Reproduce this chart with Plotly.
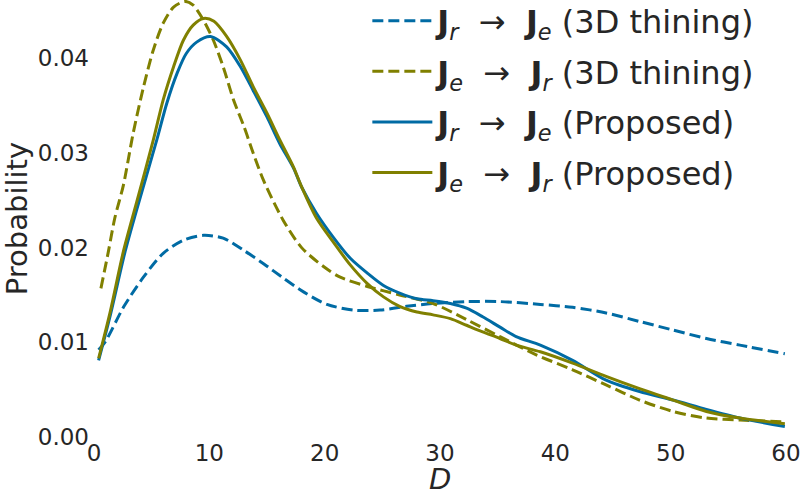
import plotly.graph_objects as go

# ---- data ----
x_rt_thin = [0.4, 1.0, 2.6, 4.3, 6.0, 7.8, 9.5, 11.2, 13.0, 14.7, 16.4, 18.2, 20.2, 22.5, 24.8,
             27.1, 29.4, 32.3, 35.2, 38.7, 41.5, 44.4, 47.3, 50.2, 53.1, 56.0, 59.9]
y_rt_thin = [0.0092, 0.0101, 0.0138, 0.0169, 0.0194, 0.0208, 0.0213, 0.0210, 0.0197, 0.0183, 0.0168,
             0.0153, 0.0140, 0.0134, 0.0134, 0.0138, 0.0141, 0.0143, 0.0143, 0.0140, 0.0137, 0.0131,
             0.0122, 0.0113, 0.0104, 0.0097, 0.0088]

x_er_thin = [0.6, 1.25, 1.8, 2.55, 3.4, 4.3, 5.15, 6.0, 6.9, 7.9, 8.6, 9.5, 10.35, 11.2, 12.1, 13.0,
             13.8, 14.7, 16.4, 18.0, 19.9, 21.3, 23.7, 26.5, 29.4, 32.3, 35.2, 38.3, 41.5, 44.4,
             47.3, 50.2, 53.1, 56.0, 59.9]
y_er_thin = [0.0157, 0.0196, 0.0231, 0.0266, 0.0321, 0.0370, 0.0409, 0.0437, 0.0454, 0.0460, 0.0456,
             0.0440, 0.0419, 0.0391, 0.0356, 0.0328, 0.0300, 0.0271, 0.0229, 0.0200, 0.0180, 0.0169,
             0.0159, 0.0150, 0.0141, 0.0124, 0.0106, 0.0087, 0.0071, 0.0055, 0.0039, 0.0027, 0.0020,
             0.0018, 0.0016]

x_rt_prop = [0.4, 1.4, 2.7, 3.7, 5.45, 6.3, 7.2, 8.0, 8.9, 10.1, 11.5, 12.7, 13.8, 15.0, 16.1,
             17.3, 18.0, 19.3, 20.8, 22.2, 23.7, 25.1, 26.5, 28.0, 29.4, 30.9, 32.3, 33.7, 35.2,
             36.6, 38.7, 41.5, 44.4, 47.3, 50.2, 53.1, 56.0, 59.9]
y_rt_prop = [0.0081, 0.0128, 0.0196, 0.0240, 0.0314, 0.0352, 0.0384, 0.0405, 0.0417, 0.0423,
             0.0412, 0.0391, 0.0366, 0.0338, 0.0310, 0.0284, 0.0264, 0.0236, 0.0210, 0.0189, 0.0173,
             0.0160, 0.0152, 0.0146, 0.0144, 0.0141, 0.0136, 0.0127, 0.0116, 0.0106, 0.0097, 0.0081,
             0.0060, 0.0048, 0.0039, 0.0029, 0.0020, 0.0011]

x_er_prop = [0.4, 1.4, 2.55, 3.7, 5.15, 6.0, 6.9, 7.75, 8.6, 9.5, 10.4, 11.5, 12.7, 13.8, 15.0,
             16.1, 17.3, 17.9, 19.3, 20.8, 22.2, 23.7, 25.1, 26.5, 28.0, 29.4, 30.9, 32.3, 33.7,
             35.2, 36.6, 38.7, 41.5, 44.4, 47.3, 50.2, 53.1, 56.0, 59.9]
y_er_prop = [0.0083, 0.0132, 0.0196, 0.0248, 0.0314, 0.0356, 0.0391, 0.0419, 0.0435, 0.0442,
             0.0439, 0.0423, 0.0398, 0.0370, 0.0342, 0.0314, 0.0285, 0.0267, 0.0231, 0.0205, 0.0182,
             0.0162, 0.0148, 0.0138, 0.0132, 0.0129, 0.0125, 0.0118, 0.0111, 0.0104, 0.0097, 0.0090,
             0.0078, 0.0064, 0.0051, 0.0039, 0.0027, 0.0020, 0.0014]

x_ticks = [0, 10, 20, 30, 40, 50, 60]
y_ticks = [0.00, 0.01, 0.02, 0.03, 0.04]
y_tick_text = ["0.00", "0.01", "0.02", "0.03", "0.04"]

JR = "<b>J</b><sub><i>r</i></sub>"
JE = "<b>J</b><sub><i>e</i></sub>"
names = [f"{JR}  →  {JE} (3D thining)", f"{JE}  →  {JR} (3D thining)",
         f"{JR}  →  {JE} (Proposed)", f"{JE}  →  {JR} (Proposed)"]
x_title = "<i>D</i>"
y_title = "Probability"

BLUE = "#006BA4"
OLIVE = "#808000"
FONT = "DejaVu Sans"
TXT = "#262626"

series = [
    (x_rt_thin, y_rt_thin, BLUE, "11px,5px"),
    (x_er_thin, y_er_thin, OLIVE, "11px,5px"),
    (x_rt_prop, y_rt_prop, BLUE, "solid"),
    (x_er_prop, y_er_prop, OLIVE, "solid"),
]

fig = go.Figure()
for i, (xs, ys, col, dash) in enumerate(series):
    fig.add_trace(go.Scatter(
        x=xs, y=ys, mode="lines", name=names[i], legendgroup=f"g{i}",
        line=dict(color=col, width=3, dash=dash, shape="spline", smoothing=0.8),
    ))

fig.update_layout(
    width=800, height=492,
    margin=dict(l=93.5, r=13.5, t=0, b=55, autoexpand=False),
    paper_bgcolor="white", plot_bgcolor="white",
    font=dict(family=FONT, color=TXT),
    showlegend=True,
    legend=dict(x=0.395, y=1.015, xanchor="left", yanchor="top",
                font=dict(family=FONT, size=32, color=TXT),
                bgcolor="rgba(0,0,0,0)", tracegroupgap=6, itemwidth=60),
    xaxis=dict(range=[0, 60], tickvals=x_ticks, showgrid=False, zeroline=False,
               showline=False, ticks="", ticklabeloverflow="allow",
               tickfont=dict(size=23, family=FONT, color=TXT),
               automargin=False),
    yaxis=dict(range=[0, 0.04615], tickvals=y_ticks, ticktext=y_tick_text, showgrid=False,
               zeroline=False, showline=False, ticks="", ticklabelstandoff=4,
               ticklabeloverflow="allow",
               tickfont=dict(size=23, family=FONT, color=TXT),
               title=dict(text=y_title, font=dict(size=29, family=FONT, color=TXT), standoff=4),
               automargin=False),
    annotations=[dict(text=x_title, xref="paper", yref="paper", x=0.5, y=0,
                      xanchor="center", yanchor="middle", yshift=-42, showarrow=False,
                      font=dict(size=29, family=FONT, color=TXT))],
)

fig.write_html("out.html", config={"displayModeBar": False},
               post_script="document.body.style.margin='0px';")
